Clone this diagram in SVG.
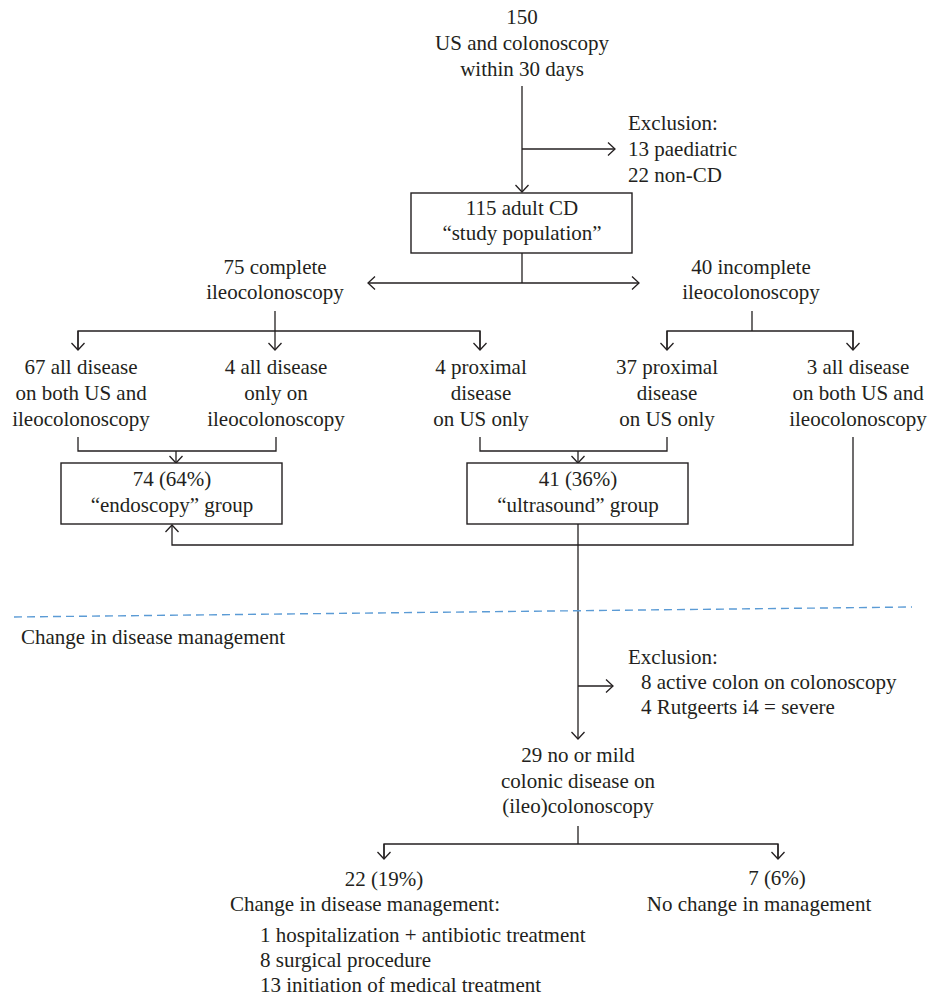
<svg xmlns="http://www.w3.org/2000/svg" width="930" height="998" viewBox="0 0 930 998" font-family="'Liberation Serif', 'Times New Roman', serif">
<defs>
<marker id="ah" markerUnits="userSpaceOnUse" markerWidth="16" markerHeight="16" viewBox="-8 -8 16 16" refX="0" refY="0" orient="auto-start-reverse" overflow="visible">
<path d="M-7,-6.5 L0,0 L-7,6.5" fill="none" stroke="#231f20" stroke-width="1.3"/>
</marker>
</defs>
<style>
text{font-family:'Liberation Serif','Times New Roman',serif;font-size:21px;fill:#231f20;}
.c{text-anchor:middle;}
.box{fill:#fff;stroke:#231f20;stroke-width:1.4;}
.ln{fill:none;stroke:#231f20;stroke-width:1.3;}
.ar{fill:none;stroke:#231f20;stroke-width:1.3;marker-end:url(#ah);}
.dash{fill:none;stroke:#5b9bd5;stroke-width:1.4;stroke-dasharray:8,5;}
</style>
<rect width="930" height="998" fill="#fff"/>

<g id="connectors">
<path class="ar" d="M522,86 V192"/>
<path class="ar" d="M522,149 H615"/>
<path class="ln" d="M522,253 V283"/>
<path class="ar" d="M368,283 H639" style="marker-start:url(#ah)"/>
<path class="ln" d="M78,349 V331 H480 V349"/>
<path class="ar" d="M78,331 V350"/>
<path class="ar" d="M480,331 V350"/>
<path class="ar" d="M275,311 V350"/>
<path class="ln" d="M752,311 V331"/>
<path class="ln" d="M667,349 V331 H853 V349"/>
<path class="ar" d="M667,331 V350"/>
<path class="ar" d="M853,331 V350"/>
<path class="ln" d="M78,437 V451 H276 V437"/>
<path class="ar" d="M176,451 V463"/>
<path class="ln" d="M480,437 V451 H667 V437"/>
<path class="ar" d="M578,451 V463"/>
<path class="ar" d="M853,437 V545 H172 V525"/>
<path class="ar" d="M578,524 V739"/>
<path class="ar" d="M578,686 H613"/>
<path class="ln" d="M578,826 V844"/>
<path class="ln" d="M384,858 V844 H778 V858"/>
<path class="ar" d="M384,844 V859"/>
<path class="ar" d="M778,844 V859"/>
</g>

<path class="dash" d="M14,617 L912,607"/>

<g id="n150">
<text class="c" x="522" y="24">150</text>
<text class="c" x="522" y="50">US and colonoscopy</text>
<text class="c" x="522" y="76">within 30 days</text>
</g>
<g id="excl1">
<text x="628" y="130">Exclusion:</text>
<text x="628" y="156">13 paediatric</text>
<text x="628" y="182">22 non-CD</text>
</g>
<g id="study">
<rect class="box" x="411" y="193" width="221" height="60"/>
<text class="c" x="522" y="215">115 adult CD</text>
<text class="c" x="522" y="240">“study population”</text>
</g>
<g id="complete">
<text class="c" x="275" y="274">75 complete</text>
<text class="c" x="275" y="299">ileocolonoscopy</text>
</g>
<g id="incomplete">
<text class="c" x="751" y="274">40 incomplete</text>
<text class="c" x="751" y="299">ileocolonoscopy</text>
</g>
<g id="n67">
<text class="c" x="81" y="374">67 all disease</text>
<text class="c" x="81" y="400">on both US and</text>
<text class="c" x="81" y="426">ileocolonoscopy</text>
</g>
<g id="n4a">
<text class="c" x="276" y="374">4 all disease</text>
<text class="c" x="276" y="400">only on</text>
<text class="c" x="276" y="426">ileocolonoscopy</text>
</g>
<g id="n4p">
<text class="c" x="481" y="374">4 proximal</text>
<text class="c" x="481" y="400">disease</text>
<text class="c" x="481" y="426">on US only</text>
</g>
<g id="n37">
<text class="c" x="667" y="374">37 proximal</text>
<text class="c" x="667" y="400">disease</text>
<text class="c" x="667" y="426">on US only</text>
</g>
<g id="n3">
<text class="c" x="858" y="374">3 all disease</text>
<text class="c" x="858" y="400">on both US and</text>
<text class="c" x="858" y="426">ileocolonoscopy</text>
</g>
<g id="endo">
<rect class="box" x="61" y="463" width="221" height="61"/>
<text class="c" x="172" y="486">74 (64%)</text>
<text class="c" x="172" y="512">“endoscopy” group</text>
</g>
<g id="us">
<rect class="box" x="467" y="463" width="221" height="61"/>
<text class="c" x="578" y="486">41 (36%)</text>
<text class="c" x="578" y="512">“ultrasound” group</text>
</g>
<g id="section">
<text x="21" y="644">Change in disease management</text>
</g>
<g id="excl2">
<text x="628" y="664">Exclusion:</text>
<text x="641" y="689">8 active colon on colonoscopy</text>
<text x="641" y="714">4 Rutgeerts i4 = severe</text>
</g>
<g id="n29">
<text class="c" x="578" y="762">29 no or mild</text>
<text class="c" x="578" y="788">colonic disease on</text>
<text class="c" x="578" y="813">(ileo)colonoscopy</text>
</g>
<g id="n22">
<text class="c" x="384" y="886">22 (19%)</text>
<text class="c" x="365" y="911">Change in disease management:</text>
<text x="260" y="942">1 hospitalization + antibiotic treatment</text>
<text x="260" y="967">8 surgical procedure</text>
<text x="260" y="992">13 initiation of medical treatment</text>
</g>
<g id="n7">
<text class="c" x="777" y="885">7 (6%)</text>
<text class="c" x="759" y="911">No change in management</text>
</g>
</svg>
